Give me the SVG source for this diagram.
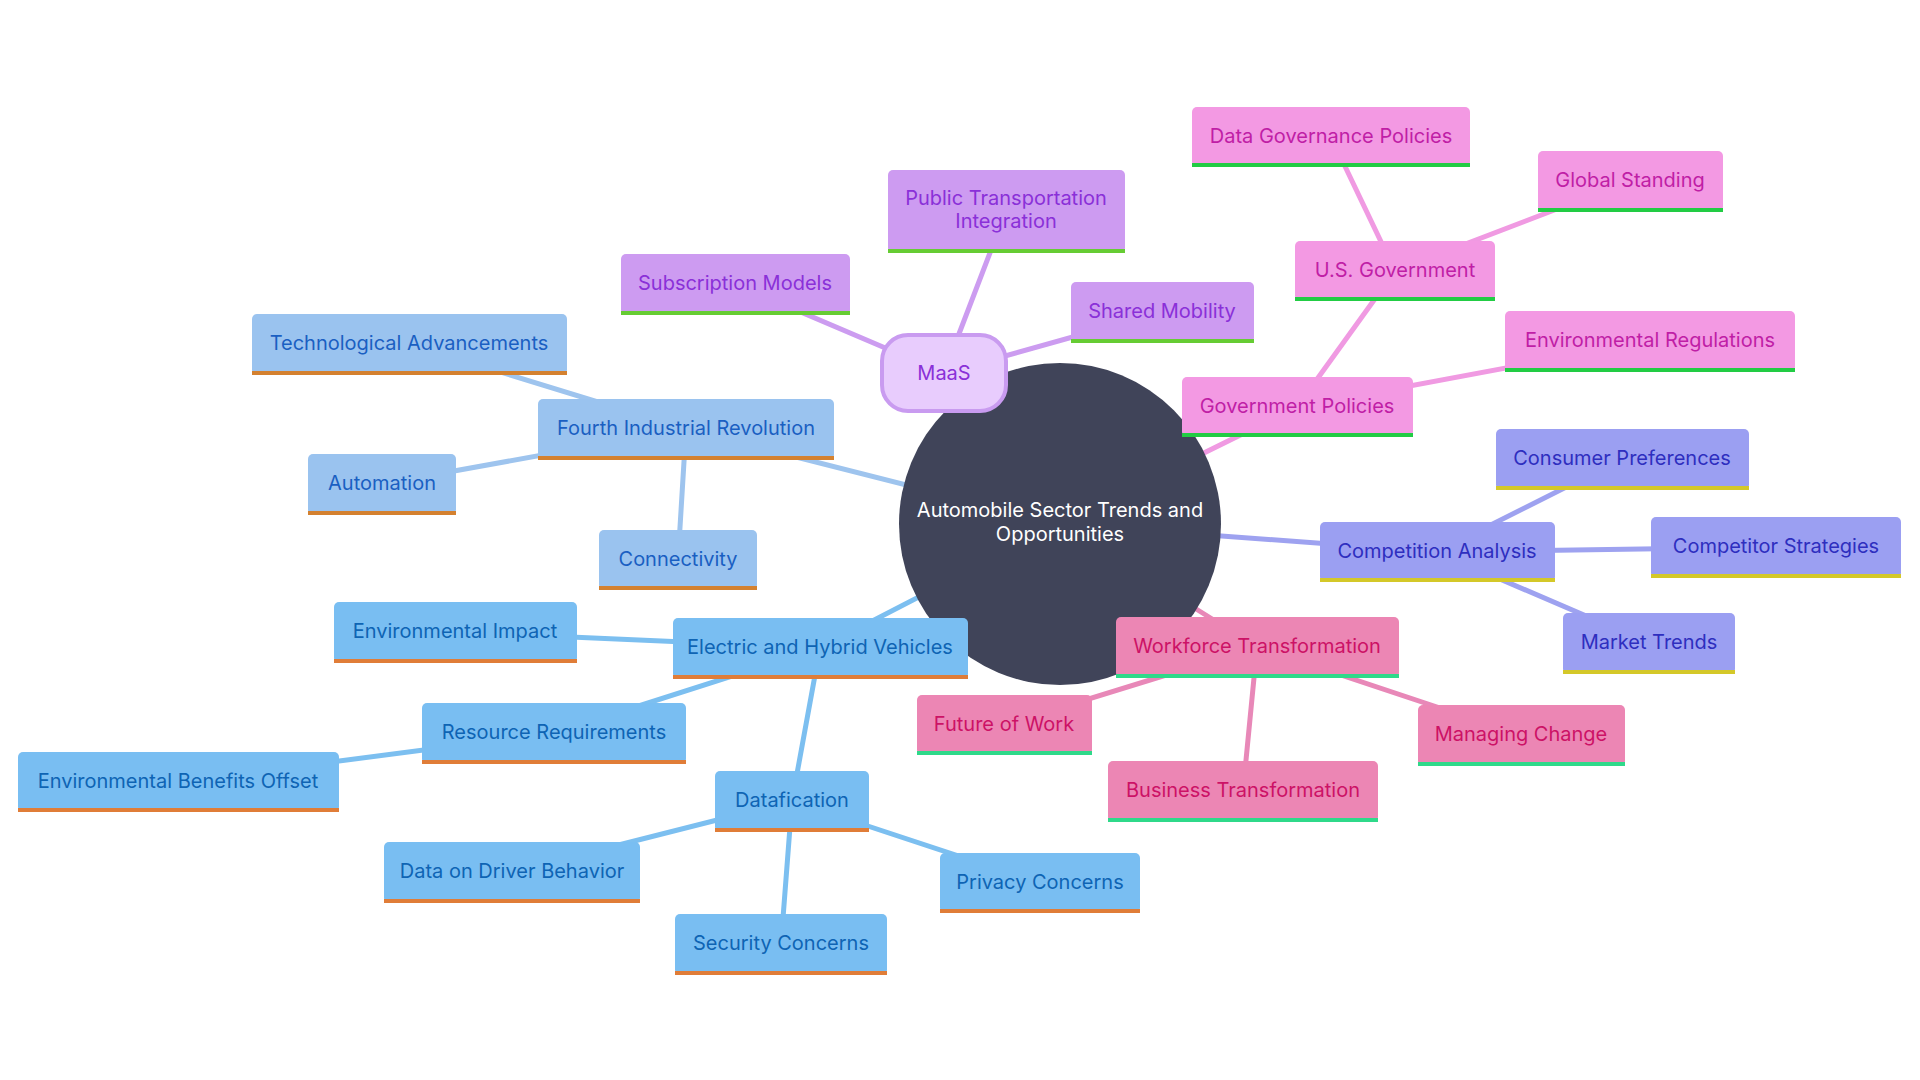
<svg xmlns="http://www.w3.org/2000/svg" width="1920" height="1080" viewBox="0 0 1920 1080">
<style>
text{font-family:Inter,"Noto Sans","Liberation Sans",sans-serif;font-size:20px;text-anchor:middle}
.edge{stroke-width:5;fill:none;stroke-linecap:round}
.ep{stroke:#cc9cf0}.eg{stroke:#f09ae2}.ec{stroke:#9ea2f0}.ew{stroke:#e888b8}.ef{stroke:#9ec4ee}.ee{stroke:#7cbff0}
.bp{fill:#cd9bf1}.tp{fill:#8a30d8}.rp{fill:#66cc33}
.bg{fill:#f399e3}.tg{fill:#c01ea6}.rg{fill:#22cc44}
.bc{fill:#9b9ff2}.tc{fill:#2e2ebf}.rc{fill:#d4c829}
.bw{fill:#ec86b4}.tw{fill:#cc1266}.rw{fill:#2fd98a}
.bf{fill:#9ac3ef}.tf{fill:#1a5fc2}.rf{fill:#d4812f}
.be{fill:#79bef2}.te{fill:#0e64b4}.re{fill:#e07d38}
</style>
<rect width="1920" height="1080" fill="#ffffff"/>
<g id="connectors">
<line class="edge ep" x1="1060" y1="524" x2="944" y2="373"/>
<line class="edge eg" x1="1060" y1="524" x2="1297" y2="407"/>
<line class="edge ec" x1="1060" y1="524" x2="1437" y2="552"/>
<line class="edge ew" x1="1060" y1="524" x2="1257" y2="647"/>
<line class="edge ef" x1="1060" y1="524" x2="686" y2="429"/>
<line class="edge ee" x1="1060" y1="524" x2="820" y2="648"/>
<line class="edge ep" x1="944" y1="373" x2="1006" y2="211"/>
<line class="edge ep" x1="944" y1="373" x2="735" y2="284"/>
<line class="edge ep" x1="944" y1="373" x2="1162" y2="312"/>
<line class="edge eg" x1="1297" y1="407" x2="1395" y2="271"/>
<line class="edge eg" x1="1395" y1="271" x2="1331" y2="137"/>
<line class="edge eg" x1="1395" y1="271" x2="1630" y2="181"/>
<line class="edge eg" x1="1297" y1="407" x2="1650" y2="341"/>
<line class="edge ec" x1="1437" y1="552" x2="1622" y2="459"/>
<line class="edge ec" x1="1437" y1="552" x2="1776" y2="547"/>
<line class="edge ec" x1="1437" y1="552" x2="1649" y2="643"/>
<line class="edge ew" x1="1257" y1="647" x2="1004" y2="725"/>
<line class="edge ew" x1="1257" y1="647" x2="1521" y2="735"/>
<line class="edge ew" x1="1257" y1="647" x2="1243" y2="791"/>
<line class="edge ef" x1="686" y1="429" x2="409" y2="344"/>
<line class="edge ef" x1="686" y1="429" x2="382" y2="484"/>
<line class="edge ef" x1="686" y1="429" x2="678" y2="560"/>
<line class="edge ee" x1="820" y1="648" x2="455" y2="632"/>
<line class="edge ee" x1="820" y1="648" x2="554" y2="733"/>
<line class="edge ee" x1="820" y1="648" x2="792" y2="801"/>
<line class="edge ee" x1="554" y1="733" x2="178" y2="782"/>
<line class="edge ee" x1="792" y1="801" x2="512" y2="872"/>
<line class="edge ee" x1="792" y1="801" x2="781" y2="944"/>
<line class="edge ee" x1="792" y1="801" x2="1040" y2="883"/>
</g>
<g id="root">
<circle cx="1060" cy="524" r="161" fill="#404459"/>
<text x="1060" y="517" fill="#ffffff">Automobile Sector Trends and</text>
<text x="1060" y="541" fill="#ffffff">Opportunities</text>
</g>
<g id="maas">
<rect x="882" y="335" width="124" height="76" rx="26" fill="#e8ccfd" stroke="#c99bf0" stroke-width="4"/>
<text x="944" y="380" class="tp">MaaS</text>
</g>
<g id="public-transportation">
<rect x="888" y="170" width="237" height="83" rx="5" class="bp"/><rect x="888" y="249" width="237" height="4" class="rp"/>
<text x="1006" y="205" class="tp">Public Transportation</text><text x="1006" y="228" class="tp">Integration</text>
</g>
<g id="subscription-models">
<rect x="621" y="254" width="229" height="61" rx="5" class="bp"/><rect x="621" y="311" width="229" height="4" class="rp"/>
<text x="735" y="290" class="tp">Subscription Models</text>
</g>
<g id="shared-mobility">
<rect x="1071" y="282" width="183" height="61" rx="5" class="bp"/><rect x="1071" y="339" width="183" height="4" class="rp"/>
<text x="1162" y="318" class="tp">Shared Mobility</text>
</g>
<g id="government-policies">
<rect x="1182" y="377" width="231" height="60" rx="5" class="bg"/><rect x="1182" y="433" width="231" height="4" class="rg"/>
<text x="1297" y="413" class="tg">Government Policies</text>
</g>
<g id="us-government">
<rect x="1295" y="241" width="200" height="60" rx="5" class="bg"/><rect x="1295" y="297" width="200" height="4" class="rg"/>
<text x="1395" y="277" class="tg">U.S. Government</text>
</g>
<g id="data-governance-policies">
<rect x="1192" y="107" width="278" height="60" rx="5" class="bg"/><rect x="1192" y="163" width="278" height="4" class="rg"/>
<text x="1331" y="143" class="tg">Data Governance Policies</text>
</g>
<g id="global-standing">
<rect x="1538" y="151" width="185" height="61" rx="5" class="bg"/><rect x="1538" y="208" width="185" height="4" class="rg"/>
<text x="1630" y="187" class="tg">Global Standing</text>
</g>
<g id="environmental-regulations">
<rect x="1505" y="311" width="290" height="61" rx="5" class="bg"/><rect x="1505" y="368" width="290" height="4" class="rg"/>
<text x="1650" y="347" class="tg">Environmental Regulations</text>
</g>
<g id="competition-analysis">
<rect x="1320" y="522" width="235" height="60" rx="5" class="bc"/><rect x="1320" y="578" width="235" height="4" class="rc"/>
<text x="1437" y="558" class="tc">Competition Analysis</text>
</g>
<g id="consumer-preferences">
<rect x="1496" y="429" width="253" height="61" rx="5" class="bc"/><rect x="1496" y="486" width="253" height="4" class="rc"/>
<text x="1622" y="465" class="tc">Consumer Preferences</text>
</g>
<g id="competitor-strategies">
<rect x="1651" y="517" width="250" height="61" rx="5" class="bc"/><rect x="1651" y="574" width="250" height="4" class="rc"/>
<text x="1776" y="553" class="tc">Competitor Strategies</text>
</g>
<g id="market-trends">
<rect x="1563" y="613" width="172" height="61" rx="5" class="bc"/><rect x="1563" y="670" width="172" height="4" class="rc"/>
<text x="1649" y="649" class="tc">Market Trends</text>
</g>
<g id="workforce-transformation">
<rect x="1116" y="617" width="283" height="61" rx="5" class="bw"/><rect x="1116" y="674" width="283" height="4" class="rw"/>
<text x="1257" y="653" class="tw">Workforce Transformation</text>
</g>
<g id="future-of-work">
<rect x="917" y="695" width="175" height="60" rx="5" class="bw"/><rect x="917" y="751" width="175" height="4" class="rw"/>
<text x="1004" y="731" class="tw">Future of Work</text>
</g>
<g id="managing-change">
<rect x="1418" y="705" width="207" height="61" rx="5" class="bw"/><rect x="1418" y="762" width="207" height="4" class="rw"/>
<text x="1521" y="741" class="tw">Managing Change</text>
</g>
<g id="business-transformation">
<rect x="1108" y="761" width="270" height="61" rx="5" class="bw"/><rect x="1108" y="818" width="270" height="4" class="rw"/>
<text x="1243" y="797" class="tw">Business Transformation</text>
</g>
<g id="fourth-industrial-revolution">
<rect x="538" y="399" width="296" height="61" rx="5" class="bf"/><rect x="538" y="456" width="296" height="4" class="rf"/>
<text x="686" y="435" class="tf">Fourth Industrial Revolution</text>
</g>
<g id="technological-advancements">
<rect x="252" y="314" width="315" height="61" rx="5" class="bf"/><rect x="252" y="371" width="315" height="4" class="rf"/>
<text x="409" y="350" class="tf">Technological Advancements</text>
</g>
<g id="automation">
<rect x="308" y="454" width="148" height="61" rx="5" class="bf"/><rect x="308" y="511" width="148" height="4" class="rf"/>
<text x="382" y="490" class="tf">Automation</text>
</g>
<g id="connectivity">
<rect x="599" y="530" width="158" height="60" rx="5" class="bf"/><rect x="599" y="586" width="158" height="4" class="rf"/>
<text x="678" y="566" class="tf">Connectivity</text>
</g>
<g id="electric-hybrid-vehicles">
<rect x="673" y="618" width="295" height="61" rx="5" class="be"/><rect x="673" y="675" width="295" height="4" class="re"/>
<text x="820" y="654" class="te">Electric and Hybrid Vehicles</text>
</g>
<g id="environmental-impact">
<rect x="334" y="602" width="243" height="61" rx="5" class="be"/><rect x="334" y="659" width="243" height="4" class="re"/>
<text x="455" y="638" class="te">Environmental Impact</text>
</g>
<g id="resource-requirements">
<rect x="422" y="703" width="264" height="61" rx="5" class="be"/><rect x="422" y="760" width="264" height="4" class="re"/>
<text x="554" y="739" class="te">Resource Requirements</text>
</g>
<g id="environmental-benefits-offset">
<rect x="18" y="752" width="321" height="60" rx="5" class="be"/><rect x="18" y="808" width="321" height="4" class="re"/>
<text x="178" y="788" class="te">Environmental Benefits Offset</text>
</g>
<g id="datafication">
<rect x="715" y="771" width="154" height="61" rx="5" class="be"/><rect x="715" y="828" width="154" height="4" class="re"/>
<text x="792" y="807" class="te">Datafication</text>
</g>
<g id="data-on-driver-behavior">
<rect x="384" y="842" width="256" height="61" rx="5" class="be"/><rect x="384" y="899" width="256" height="4" class="re"/>
<text x="512" y="878" class="te">Data on Driver Behavior</text>
</g>
<g id="security-concerns">
<rect x="675" y="914" width="212" height="61" rx="5" class="be"/><rect x="675" y="971" width="212" height="4" class="re"/>
<text x="781" y="950" class="te">Security Concerns</text>
</g>
<g id="privacy-concerns">
<rect x="940" y="853" width="200" height="60" rx="5" class="be"/><rect x="940" y="909" width="200" height="4" class="re"/>
<text x="1040" y="889" class="te">Privacy Concerns</text>
</g>
</svg>
